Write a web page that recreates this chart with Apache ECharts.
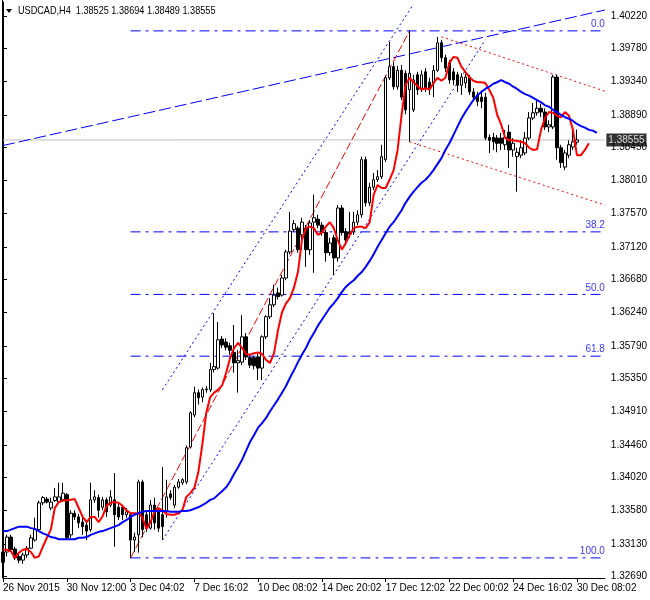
<!DOCTYPE html>
<html><head><meta charset="utf-8">
<script src="https://cdn.jsdelivr.net/npm/echarts@6/dist/echarts.min.js"></script>
<style>html,body{margin:0;padding:0;background:#fff}#c{width:650px;height:600px}</style>
</head><body><div id="c"></div>
<script>
const FONT = "'Liberation Sans', Arial, sans-serif";
const FS = 10;
const titleText = "USDCAD,H4  1.38525 1.38694 1.38489 1.38555";
const xTickLabels = ["26 Nov 2015","30 Nov 12:00","3 Dec 04:02","7 Dec 16:02","10 Dec 08:02","14 Dec 20:02","17 Dec 12:02","22 Dec 00:02","24 Dec 16:02","30 Dec 08:02"];
const yTickLabels = ["1.32690","1.33130","1.33580","1.34020","1.34460","1.34910","1.35350","1.35790","1.36240","1.36680","1.37120","1.37570","1.38010","1.38450","1.38890","1.39340","1.39780","1.40220"];
// [open, close, low, high]
const candles = [
[1.3302,1.3288,1.3284,1.3306],[1.3302,1.3322,1.3296,1.3325],[1.3322,1.3305,1.3302,1.3325],[1.3306,1.3294,1.3291,1.3309],
[1.3296,1.3291,1.3287,1.3299],[1.3291,1.3298,1.3286,1.3301],[1.3298,1.3307,1.3294,1.3310],[1.3307,1.3321,1.3306,1.3325],
[1.3318,1.3332,1.3316,1.3348],[1.3332,1.3368,1.3330,1.3371],[1.3368,1.3375,1.3365,1.3377],[1.3373,1.3369,1.3367,1.3376],
[1.3361,1.3369,1.3358,1.3375],[1.3371,1.3376,1.3369,1.3388],[1.3369,1.3376,1.3368,1.3395],[1.3372,1.3381,1.3369,1.3395],
[1.3379,1.3321,1.3318,1.3381],[1.3325,1.3354,1.3321,1.3358],[1.3354,1.3349,1.3345,1.3358],[1.3349,1.3341,1.3334,1.3353],
[1.3342,1.3336,1.3325,1.3348],[1.3338,1.3330,1.3318,1.3345],[1.3332,1.3372,1.3329,1.3395],[1.3372,1.3376,1.3368,1.3385],
[1.3375,1.3358,1.3348,1.3379],[1.3362,1.3372,1.3358,1.3376],[1.3372,1.3356,1.3349,1.3375],[1.3365,1.3376,1.3362,1.3385],
[1.3372,1.3352,1.3309,1.3408],[1.3362,1.3349,1.3345,1.3368],[1.3362,1.3352,1.3345,1.3365],[1.3352,1.3356,1.3348,1.3361],
[1.3352,1.3318,1.3294,1.3354],[1.3318,1.3322,1.3302,1.3328],[1.3325,1.3396,1.3301,1.3399],[1.3396,1.3332,1.3322,1.3399],
[1.3352,1.3334,1.3329,1.3356],[1.3334,1.3365,1.3332,1.3372],[1.3365,1.3341,1.3332,1.3375],[1.3356,1.3334,1.3329,1.3361],
[1.3352,1.3336,1.3318,1.3416],[1.3356,1.3376,1.3348,1.3399],[1.3380,1.3375,1.3372,1.3385],[1.3365,1.3389,1.3361,1.3392],
[1.3389,1.3396,1.3387,1.3400],[1.3395,1.3399,1.3392,1.3401],[1.3396,1.3442,1.3393,1.3445],[1.3443,1.3489,1.3441,1.3491],
[1.3486,1.3516,1.3483,1.3524],[1.3516,1.3509,1.3500,1.3520],[1.3510,1.3520,1.3503,1.3523],[1.3520,1.3521,1.3516,1.3525],
[1.3520,1.3547,1.3517,1.3556],[1.3547,1.3551,1.3543,1.3623],[1.3549,1.3587,1.3547,1.3611],[1.3588,1.3580,1.3576,1.3592],
[1.3584,1.3577,1.3573,1.3589],[1.3579,1.3573,1.3567,1.3583],[1.3570,1.3556,1.3543,1.3607],[1.3556,1.3559,1.3516,1.3573],
[1.3557,1.3591,1.3553,1.3620],[1.3591,1.3564,1.3560,1.3596],[1.3563,1.3553,1.3549,1.3567],[1.3563,1.3552,1.3547,1.3565],
[1.3564,1.3549,1.3533,1.3568],[1.3549,1.3591,1.3533,1.3593],[1.3591,1.3618,1.3588,1.3620],[1.3618,1.3634,1.3615,1.3643],
[1.3634,1.3647,1.3631,1.3661],[1.3650,1.3645,1.3641,1.3657],[1.3647,1.3670,1.3645,1.3674],[1.3670,1.3705,1.3667,1.3708],
[1.3705,1.3733,1.3702,1.3759],[1.3735,1.3743,1.3732,1.3748],[1.3737,1.3708,1.3704,1.3740],[1.3728,1.3745,1.3708,1.3751],
[1.3737,1.3708,1.3685,1.3741],[1.3708,1.3744,1.3701,1.3748],[1.3745,1.3751,1.3677,1.3782],[1.3749,1.3741,1.3737,1.3755],
[1.3741,1.3731,1.3727,1.3745],[1.3731,1.3704,1.3692,1.3735],[1.3704,1.3717,1.3700,1.3724],[1.3724,1.3697,1.3674,1.3728],
[1.3697,1.3764,1.3692,1.3768],[1.3764,1.3731,1.3727,1.3768],[1.3732,1.3721,1.3714,1.3737],[1.3732,1.3729,1.3724,1.3759],
[1.3732,1.3745,1.3728,1.3759],[1.3745,1.3755,1.3741,1.3761],[1.3755,1.3829,1.3751,1.3833],[1.3829,1.3771,1.3766,1.3833],
[1.3771,1.3792,1.3767,1.3798],[1.3792,1.3802,1.3788,1.3811],[1.3802,1.3806,1.3799,1.3815],[1.3806,1.3833,1.3803,1.3849],
[1.3829,1.3939,1.3826,1.3942],[1.3939,1.3954,1.3936,1.3987],[1.3954,1.3927,1.3923,1.3960],[1.3927,1.3949,1.3923,1.3955],
[1.3949,1.3913,1.3909,1.3956],[1.3945,1.3896,1.3890,1.3949],[1.3923,1.3945,1.3853,1.4002],[1.3896,1.3936,1.3893,1.3943],
[1.3943,1.3923,1.3916,1.3947],[1.3925,1.3943,1.3920,1.3949],[1.3947,1.3925,1.3920,1.3952],[1.3933,1.3925,1.3916,1.3939],
[1.3932,1.3949,1.3913,1.3956],[1.3949,1.3986,1.3947,1.3994],[1.3986,1.3966,1.3960,1.3990],[1.3966,1.3952,1.3947,1.3970],
[1.3959,1.3936,1.3931,1.3963],[1.3947,1.3936,1.3929,1.3952],[1.3943,1.3929,1.3920,1.3947],[1.3929,1.3940,1.3916,1.3945],
[1.3932,1.3940,1.3925,1.3944],[1.3939,1.3920,1.3916,1.3943],[1.3920,1.3913,1.3909,1.3925],[1.3916,1.3907,1.3901,1.3920],
[1.3913,1.3907,1.3898,1.3919],[1.3913,1.3858,1.3855,1.3919],[1.3859,1.3855,1.3838,1.3863],[1.3859,1.3853,1.3842,1.3865],
[1.3858,1.3851,1.3839,1.3862],[1.3858,1.3851,1.3842,1.3865],[1.3849,1.3859,1.3842,1.3869],[1.3866,1.3842,1.3818,1.3876],
[1.3842,1.3851,1.3833,1.3858],[1.3833,1.3839,1.3786,1.3845],[1.3835,1.3845,1.3831,1.3855],[1.3838,1.3858,1.3835,1.3866],
[1.3858,1.3885,1.3855,1.3893],[1.3885,1.3892,1.3882,1.3905],[1.3892,1.3898,1.3888,1.3909],[1.3898,1.3893,1.3886,1.3904],
[1.3893,1.3873,1.3869,1.3898],[1.3873,1.3876,1.3866,1.3882],[1.3873,1.3940,1.3870,1.3943],[1.3940,1.3845,1.3829,1.3943],
[1.3845,1.3825,1.3818,1.3849],[1.3819,1.3838,1.3815,1.3842],[1.3835,1.3849,1.3831,1.3855],[1.3846,1.3853,1.3842,1.3869],
[1.38525,1.38555,1.38489,1.38694]
];
// fast MA (drawn shifted 3 bars forward)
const redMA = [
1.3305,1.3305,1.3303,1.3294,1.3301,1.3305,1.3306,1.3302,1.3294,1.3296,1.3309,1.3321,1.3332,1.3361,1.3369,1.3371,
1.3371,1.3372,1.3373,1.3361,1.3349,1.3342,1.3349,1.3349,1.3342,1.3350,1.3364,1.3368,1.3369,1.3368,1.3364,1.3358,
1.3354,1.3354,1.3354,1.3348,1.3333,1.3342,1.3356,1.3361,1.3358,1.3353,1.3352,1.3352,1.3354,1.3358,1.3376,1.3381,
1.3388,1.3409,1.3446,1.3489,1.3510,1.3516,1.3520,1.3526,1.3543,1.3563,1.3576,1.3583,1.3576,1.3568,1.3567,1.3569,
1.3570,1.3568,1.3560,1.3556,1.3569,1.3600,1.3624,1.3636,1.3643,1.3657,1.3678,1.3721,1.3737,1.3739,1.3737,1.3728,
1.3731,1.3739,1.3745,1.3737,1.3721,1.3708,1.3717,1.3728,1.3737,1.3739,1.3739,1.3737,1.3745,1.3782,1.3795,1.3791,
1.3791,1.3802,1.3815,1.3842,1.3889,1.3929,1.3939,1.3933,1.3928,1.3923,1.3925,1.3923,1.3932,1.3939,1.3935,1.3939,
1.3959,1.3967,1.3966,1.3954,1.3947,1.3940,1.3935,1.3933,1.3933,1.3932,1.3923,1.3912,1.3889,1.3876,1.3858,1.3855,
1.3855,1.3854,1.3853,1.3851,1.3845,1.3842,1.3843,1.3869,1.3885,1.3893,1.3892,1.3888,1.3886,1.3893,1.3888,1.3869,
1.3835,1.3835,1.3842,1.3851
];
// slow MA (drawn shifted 5 bars forward)
const blueMA = [
1.3330,1.3330,1.3332,1.3334,1.3336,1.3336,1.3336,1.3334,1.3333,1.3330,1.3327,1.3325,1.3322,1.3321,1.3319,1.3319,
1.3319,1.3319,1.3319,1.3321,1.3321,1.3322,1.3325,1.3327,1.3329,1.3330,1.3332,1.3334,1.3336,1.3338,1.3342,1.3345,
1.3349,1.3352,1.3354,1.3356,1.3357,1.3357,1.3357,1.3357,1.3357,1.3357,1.3356,1.3356,1.3356,1.3357,1.3357,1.3358,
1.3360,1.3362,1.3365,1.3368,1.3372,1.3374,1.3379,1.3384,1.3389,1.3397,1.3407,1.3416,1.3426,1.3438,1.3450,1.3459,
1.3469,1.3475,1.3482,1.3491,1.3499,1.3507,1.3516,1.3525,1.3536,1.3546,1.3557,1.3567,1.3576,1.3587,1.3596,1.3606,
1.3614,1.3622,1.3630,1.3636,1.3643,1.3651,1.3658,1.3663,1.3667,1.3673,1.3678,1.3685,1.3693,1.3702,1.3712,1.3721,
1.3730,1.3739,1.3745,1.3753,1.3761,1.3771,1.3779,1.3786,1.3792,1.3798,1.3802,1.3808,1.3815,1.3823,1.3831,1.3842,
1.3851,1.3862,1.3873,1.3884,1.3893,1.3901,1.3909,1.3915,1.3920,1.3924,1.3927,1.3931,1.3933,1.3936,1.3933,1.3931,
1.3927,1.3924,1.3920,1.3917,1.3915,1.3912,1.3909,1.3906,1.3902,1.3900,1.3896,1.3893,1.3889,1.3886,1.3884,1.3881,
1.3877,1.3874,1.3872,1.3869,1.3868,1.3865
];
const lastPrice = 1.38555;
const fibLevels = [1.4002, 1.3732, 1.3648, 1.3565, 1.3294];
const fibNames = ["0.0", "38.2", "50.0", "61.8", "100.0"];
const fibStartBar = 32;
const lastSlot = 151;
const xLabelBars = [0, 16, 32, 48, 64, 80, 96, 112, 128, 144];
const trendBlue = [[0, 1.3848], [151, 1.4030]];
const channelUpper = [[40, 1.3520], [103, 1.4038]];
const channelLower = [[40, 1.3318], [121, 1.3990]];
const fibTrend = [[32, 1.3294], [102, 1.4002]];
const downUpper = [[110, 1.3994], [151, 1.3921]];
const downLower = [[102, 1.3853], [151, 1.3768]];

const nSlots = lastSlot + 1;
const categories = Array.from({length: nSlots}, (_, i) => String(i));

function lineSeries(data, color, type, width, z) {
  return {type: 'line', xAxisIndex: 1, yAxisIndex: 0, data: data, showSymbol: false, symbol: 'none',
    silent: true, z: z || 1, lineStyle: {color: color, type: type, width: width || 1}};
}

const series = [];
// current price line
series.push(lineSeries([[0, lastPrice], [lastSlot, lastPrice]], '#c0c0c0', 'solid', 1, 1));
fibLevels.forEach((lv, k) => {
  series.push(lineSeries([[fibStartBar, lv], [lastSlot, lv]], '#0000ff', [10, 5, 3, 5], 1, 1));
  series.push({type: 'scatter', xAxisIndex: 1, yAxisIndex: 0, silent: true, z: 6,
    symbolSize: 1, itemStyle: {color: 'rgba(0,0,0,0)'},
    data: [[lastSlot, lv]],
    label: {show: true, position: 'top', align: 'right', distance: 1, offset: [0, 0], formatter: fibNames[k],
      color: '#0000ff', fontFamily: FONT, fontSize: FS}});
});
series.push(lineSeries(trendBlue, '#0000ff', [12, 4], 1, 1));
series.push(lineSeries(channelUpper, '#0000ff', [2, 3], 1, 1));
series.push(lineSeries(channelLower, '#0000ff', [2, 3], 1, 1));
series.push(lineSeries(fibTrend, '#ff0000', [8, 3], 1, 1));
series.push(lineSeries(downUpper, '#ff0000', [2, 3], 1, 1));
series.push(lineSeries(downLower, '#ff0000', [2, 3], 1, 1));

series.push({
  type: 'candlestick', xAxisIndex: 0, yAxisIndex: 0, data: candles, barWidth: 3, clip: false, z: 3,
  itemStyle: {color: '#ffffff', color0: '#000000', borderColor: '#000000', borderColor0: '#000000', borderWidth: 1}
});
series.push({type: 'line', xAxisIndex: 0, yAxisIndex: 0, data: redMA, showSymbol: false, symbol: 'none', silent: true, z: 5,
  lineStyle: {color: '#ff0000', width: 2}});
series.push({type: 'line', xAxisIndex: 0, yAxisIndex: 0, data: blueMA, showSymbol: false, symbol: 'none', silent: true, z: 5,
  lineStyle: {color: '#0000ff', width: 2}});
// price tag on the axis
series.push({type: 'scatter', xAxisIndex: 1, yAxisIndex: 0, silent: true, z: 20,
  symbolSize: 1, itemStyle: {color: 'rgba(0,0,0,0)'},
  data: [[lastSlot, lastPrice]],
  label: {show: true, position: 'right', distance: 1, formatter: () => lastPrice.toFixed(5),
    backgroundColor: '#000000', color: '#ffffff', padding: [2, 2, 1, 2],
    fontFamily: FONT, fontSize: FS}});

const chart = echarts.init(document.getElementById('c'), null, {renderer: 'canvas'});
chart.setOption({
  animation: false,
  backgroundColor: '#ffffff',
  grid: {left: 3, right: 43, top: 2, bottom: 22, containLabel: false},
  xAxis: [{
    type: 'category', data: categories, boundaryGap: false, gridIndex: 0,
    axisLine: {show: true, lineStyle: {color: '#000', width: 1}},
    axisTick: {show: true, length: 4, customValues: xLabelBars, lineStyle: {color: '#000'}},
    axisLabel: {align: 'left', margin: 5, color: '#000', fontFamily: FONT, fontSize: FS,
      customValues: xLabelBars, hideOverlap: false, showMaxLabel: true,
      formatter: (v) => { const k = xLabelBars.indexOf(Number(v)); return k >= 0 ? xTickLabels[k] : ''; }},
    splitLine: {show: false}
  }, {
    type: 'value', gridIndex: 0, min: 0, max: lastSlot, show: false
  }],
  yAxis: [{
    type: 'value', position: 'right', min: 1.3267, max: 1.40408, scale: true,
    axisLine: {show: true, lineStyle: {color: '#000', width: 1}},
    axisTick: {show: true, length: 4, inside: false, customValues: yTickLabels.map(Number), lineStyle: {color: '#000'}},
    axisLabel: {show: true, margin: 6, color: '#000', fontFamily: FONT, fontSize: FS,
      customValues: yTickLabels.map(Number), formatter: (v) => Number(v).toFixed(5)},
    splitLine: {show: false}
  }],
  graphic: [
    {type: 'line', shape: {x1: 2.5, y1: 0, x2: 2.5, y2: 578}, style: {stroke: '#000', lineWidth: 1}, silent: true},
    {type: 'polygon', shape: {points: [[6, 9], [12, 9], [9, 13]]}, style: {fill: '#000'}, silent: true},
    {type: 'text', x: 18, y: 11, scaleX: 0.83, style: {text: titleText, fill: '#000', font: '11px ' + FONT, textVerticalAlign: 'middle'}, silent: true}
  ],
  series: series
});
</script>
</body></html>
